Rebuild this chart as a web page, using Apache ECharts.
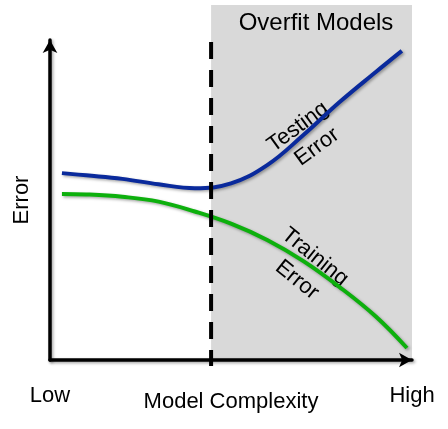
<!DOCTYPE html>
<html>
<head>
<meta charset="utf-8">
<script src="https://cdn.jsdelivr.net/npm/echarts@6/dist/echarts.min.js"></script>
<style>html,body{margin:0;padding:0;background:#fff}#c{width:448px;height:429px}</style>
</head>
<body>
<div id="c"></div>
<script>
// Model complexity (0 = low, 100 = high) and error values
const testingX = [3.3, 10, 20, 30, 40, 50, 60, 70, 80, 90, 97.2];
const testingY = [58.4, 57.7, 56.6, 54.9, 53.7, 55.2, 60.9, 70.3, 80.6, 90.0, 96.6];
const trainingX = [3.3, 10, 20, 30, 40, 50, 60, 70, 80, 90, 98.6];
const trainingY = [51.9, 51.75, 51.0, 49.5, 46.4, 42.6, 37.5, 30.9, 22.8, 13.6, 3.75];
const overfitStart = 44.5;        // where the overfit region begins
const overfitTop = 110.9;         // top of shaded region
const dividerRange = [-1.9, 99.4];
const xTickLabels = ['Low', 'High'];
const xName = 'Model Complexity';
const yName = 'Error';

const chart = echarts.init(document.getElementById('c'), null, {renderer: 'canvas'});
const font = '"Liberation Sans", Arial, sans-serif';
const shadow = {shadowColor: 'rgba(0,0,0,0.35)', shadowBlur: 3, shadowOffsetX: 1.5, shadowOffsetY: 1.5};

chart.setOption({
  animation: false,
  backgroundColor: '#ffffff',
  grid: {left: 50, right: 36, top: 40, bottom: 69, containLabel: false, outerBoundsMode: 'none'},
  xAxis: {
    type: 'value', min: 0, max: 100, interval: 100,
    name: xName, nameLocation: 'middle', nameGap: 31, nameMoveOverlap: false,
    nameTextStyle: {fontFamily: font, fontSize: 22, color: '#000', verticalAlign: 'top'},
    axisLine: {show: true, lineStyle: Object.assign({color: '#000', width: 3.5}, shadow),
               symbol: ['none', 'arrow'], symbolSize: [11, 13]},
    axisTick: {show: false}, splitLine: {show: false},
    axisLabel: {show: true, margin: 25, fontFamily: font, fontSize: 22, color: '#000',
                formatter: v => v === 0 ? xTickLabels[0] : xTickLabels[1],
                rich: {}}
  },
  yAxis: {
    type: 'value', min: 0, max: 100,
    name: yName, nameLocation: 'middle', nameGap: 17, nameRotate: 90, nameMoveOverlap: false,
    nameTextStyle: {fontFamily: font, fontSize: 22, color: '#000'},
    axisLine: {show: true, lineStyle: Object.assign({color: '#000', width: 3.5}, shadow),
               symbol: ['none', 'arrow'], symbolSize: [11, 13]},
    axisTick: {show: false}, splitLine: {show: false}, axisLabel: {show: false}
  },
  series: [
    {
      type: 'custom', z: -1, clip: false, silent: true,
      data: [[overfitStart, overfitTop, 100, 0]],
      renderItem: (params, api) => {
        const p1 = api.coord([api.value(0), api.value(1)]);
        const p2 = api.coord([api.value(2), api.value(3)]);
        return {type: 'rect', shape: {x: p1[0], y: p1[1], width: p2[0] - p1[0], height: p2[1] - p1[1]},
                style: {fill: '#d9d9d9'}};
      }
    },
    {
      type: 'line', clip: false, symbol: 'none', z: 5, silent: true,
      data: [[overfitStart, dividerRange[1]], [overfitStart, dividerRange[0]]],
      lineStyle: {color: '#000', width: 4, type: [17, 11]}
    },
    {
      type: 'line', smooth: 0.4, symbol: 'none', clip: false, z: 3,
      data: testingX.map((x, i) => [x, testingY[i]]),
      lineStyle: Object.assign({color: '#0a2a9c', width: 4, cap: 'butt'}, shadow)
    },
    {
      type: 'line', smooth: 0.4, symbol: 'none', clip: false, z: 3,
      data: trainingX.map((x, i) => [x, trainingY[i]]),
      lineStyle: Object.assign({color: '#0db00d', width: 4, cap: 'butt'}, shadow)
    }
  ],
  graphic: [
    {type: 'text', x: 316, y: 23, style: {text: 'Overfit Models', font: '24px ' + font, fill: '#000', align: 'center', verticalAlign: 'middle'}},
    {type: 'text', x: 298, y: 127, rotation: 0.63, style: {text: 'Testing', font: '22px ' + font, fill: '#000', align: 'center', verticalAlign: 'middle'}},
    {type: 'text', x: 317, y: 147, rotation: 0.63, style: {text: 'Error', font: '22px ' + font, fill: '#000', align: 'center', verticalAlign: 'middle'}},
    {type: 'text', x: 315, y: 257, rotation: -0.68, style: {text: 'Training', font: '22px ' + font, fill: '#000', align: 'center', verticalAlign: 'middle'}},
    {type: 'text', x: 297, y: 280, rotation: -0.68, style: {text: 'Error', font: '22px ' + font, fill: '#000', align: 'center', verticalAlign: 'middle'}}
  ]
});
</script>
</body>
</html>
